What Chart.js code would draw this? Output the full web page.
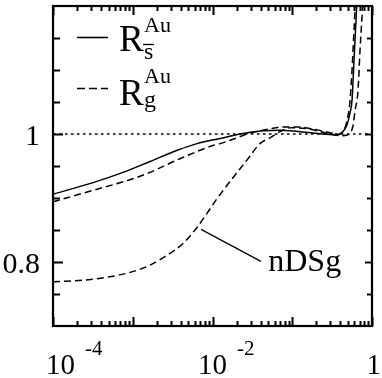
<!DOCTYPE html>
<html>
<head>
<meta charset="utf-8">
<script src="https://cdn.jsdelivr.net/npm/chart.js@4.4.0/dist/chart.umd.min.js"></script>
<style>
  html, body { margin: 0; padding: 0; background: #fff; }
  canvas { display: block; }
</style>
</head>
<body>
<canvas id="chart" width="382" height="378"></canvas>
<script>
// Data (x is log scale)
const xRs = [1e-4, 3.18e-4, 7.55e-4, 1.64e-3, 3.69e-3, 6.39e-3, 0.0124, 0.0221, 0.043, 0.0702, 0.118, 0.223, 0.344, 0.433, 0.486, 0.53, 0.561, 0.594, 0.629, 0.66];
const yRs = [0.906, 0.924, 0.94, 0.957, 0.975, 0.985, 0.993, 1.0, 1.005, 1.006, 1.004, 1.0005, 0.999, 1.004, 1.0145, 1.033, 1.052, 1.114, 1.176, 1.23];

const xRg = [1e-4, 3.18e-4, 1.0e-3, 1.64e-3, 3.69e-3, 0.0101, 0.0124, 0.0203, 0.0271, 0.0526, 0.0766, 0.118, 0.193, 0.297, 0.375, 0.433, 0.472, 0.5, 0.53, 0.561, 0.594, 0.63];
const yRg = [0.894, 0.912, 0.93, 0.94, 0.96, 0.982, 0.985, 0.994, 1.0, 1.008, 1.011, 1.011, 1.007, 1.002, 0.999, 1.004, 1.0145, 1.0285, 1.052, 1.099, 1.161, 1.23];

const xN = [1e-4, 2.38e-4, 6.35e-4, 1.13e-3, 1.64e-3, 2.69e-3, 4.27e-3, 6.39e-3, 8.53e-3, 0.0114, 0.0279, 0.0394, 0.0526, 0.0702, 0.0965, 0.157, 0.257, 0.397, 0.5, 0.578, 0.612, 0.667, 0.707, 0.75, 0.79];
const yN = [0.769, 0.7715, 0.779, 0.787, 0.795, 0.8105, 0.829, 0.854, 0.876, 0.899, 0.9615, 0.985, 0.994, 1.0036, 1.0098, 1.0083, 1.002, 0.9974, 0.9989, 1.013, 1.036, 1.067, 1.13, 1.184, 1.23];

// reference line at 1 and the pointer to the nDSg label
const refX = [1e-4, 1];
const refY = [1, 1];
const ptrX = [0.00718, 0.0405];
const ptrY = [0.851, 0.801];
const ptrLabel = 'nDSg';
const ptrLabelAt = [0.05, 0.80];

// axes
const xMin = 1e-4, xMax = 1;
const yMin = 0.7, yMax = 1.2;
const yTicks = [0.75, 0.8, 0.85, 0.9, 0.95, 1, 1.05, 1.1, 1.15];
const yLabelVals = [0.8, 1];
const yLabelText = ['0.8', '1'];
const xDecades = [-4, -3, -2, -1, 0];
const xLabelVals = [1e-4, 1e-2, 1];
const xLabelBase = ['10', '10', '1'];
const xLabelExp = ['-4', '-2', ''];

const SERIF = '"Liberation Serif", "DejaVu Serif", serif';

const pts = (xs, ys) => xs.map((v, i) => ({ x: v, y: ys[i] }));

const lineStyle = {
  borderColor: '#000',
  borderWidth: 1.5,
  pointRadius: 0,
  fill: false,
  cubicInterpolationMode: 'monotone'
};

const frame = {
  id: 'frame',
  afterDraw(chart) {
    const { ctx, chartArea: a, scales: { x, y } } = chart;
    ctx.save();
    ctx.strokeStyle = '#000';
    ctx.fillStyle = '#000';

    // box
    ctx.lineWidth = 2.2;
    ctx.strokeRect(a.left, a.top, a.right - a.left, a.bottom - a.top);

    // y ticks, inward on both sides
    ctx.lineWidth = 2;
    ctx.beginPath();
    yTicks.forEach(v => {
      const py = Math.round(y.getPixelForValue(v)) + 0.5;
      const major = yLabelVals.includes(v);
      ctx.moveTo(a.left, py); ctx.lineTo(a.left + (major ? 10 : 7), py);
      ctx.moveTo(a.right, py); ctx.lineTo(a.right - (major ? 7 : 5), py);
    });
    // x ticks, inward top and bottom
    xDecades.forEach(k => {
      const base = Math.pow(10, k);
      const px = Math.round(x.getPixelForValue(base)) + 0.5;
      ctx.moveTo(px, a.bottom); ctx.lineTo(px, a.bottom - 9);
      ctx.moveTo(px, a.top); ctx.lineTo(px, a.top + 9);
      if (k < 0) {
        for (let m = 2; m <= 9; m++) {
          const mx = Math.round(x.getPixelForValue(m * base)) + 0.5;
          ctx.moveTo(mx, a.bottom); ctx.lineTo(mx, a.bottom - 5);
          ctx.moveTo(mx, a.top); ctx.lineTo(mx, a.top + 5);
        }
      }
    });
    ctx.stroke();

    // y labels
    ctx.font = '30px ' + SERIF;
    ctx.textAlign = 'right';
    ctx.textBaseline = 'middle';
    yLabelVals.forEach((v, i) => {
      ctx.fillText(yLabelText[i], a.left - 13, y.getPixelForValue(v) + 3);
    });

    // x labels with superscripts
    ctx.textBaseline = 'alphabetic';
    ctx.textAlign = 'left';
    xLabelVals.forEach((v, i) => {
      const px = x.getPixelForValue(v);
      ctx.font = '29px ' + SERIF;
      const wb = ctx.measureText(xLabelBase[i]).width;
      ctx.font = '21px ' + SERIF;
      const we = xLabelExp[i] ? ctx.measureText(xLabelExp[i]).width + 10 : 0;
      let left = xLabelExp[i] ? px - wb / 2 : px - wb / 2 + 2;
      left = Math.max(left, 46);
      left = Math.min(left, chart.width - wb - we - 1);
      ctx.font = '29px ' + SERIF;
      ctx.fillText(xLabelBase[i], left, 374);
      if (xLabelExp[i]) {
        ctx.font = '21px ' + SERIF;
        ctx.fillText(xLabelExp[i], left + wb + 10, 355);
      }
    });

    // pointer label
    ctx.font = '32px ' + SERIF;
    ctx.textBaseline = 'middle';
    ctx.fillText(ptrLabel, x.getPixelForValue(ptrLabelAt[0]), y.getPixelForValue(ptrLabelAt[1]) + 1);

    // legend
    const lx = a.left + 24, lw = 31;
    ctx.lineWidth = 1.6;
    ctx.beginPath();
    ctx.moveTo(lx, 37.5); ctx.lineTo(lx + lw, 37.5);
    ctx.stroke();
    ctx.setLineDash([8, 4]);
    ctx.beginPath();
    ctx.moveTo(lx, 88.5); ctx.lineTo(lx + lw, 88.5);
    ctx.stroke();
    ctx.setLineDash([]);

    ctx.textBaseline = 'alphabetic';
    ctx.font = '37px ' + SERIF;
    ctx.fillText('R', 119, 51);
    ctx.fillText('R', 119, 105);
    ctx.font = '22px ' + SERIF;
    ctx.fillText('Au', 144, 32);
    ctx.fillText('Au', 144, 83);
    ctx.font = '24px ' + SERIF;
    ctx.fillText('s', 144, 59);
    ctx.fillText('g', 144, 107);
    ctx.lineWidth = 1.3;
    ctx.beginPath();
    ctx.moveTo(143, 44.5); ctx.lineTo(154, 44.5);
    ctx.stroke();

    ctx.restore();
  }
};

new Chart(document.getElementById('chart'), {
  type: 'line',
  data: {
    datasets: [
      { ...lineStyle, data: pts(refX, refY), borderWidth: 1.6, borderDash: [2.5, 3.5], cubicInterpolationMode: 'default', tension: 0 },
      { ...lineStyle, data: pts(xRs, yRs) },
      { ...lineStyle, data: pts(xRg, yRg), borderDash: [7, 4] },
      { ...lineStyle, data: pts(xN, yN), borderDash: [7, 4] },
      { ...lineStyle, data: pts(ptrX, ptrY), borderWidth: 1.2, cubicInterpolationMode: 'default', tension: 0 }
    ]
  },
  options: {
    responsive: false,
    animation: false,
    devicePixelRatio: 1,
    layout: { padding: { top: 6, right: 10, left: 0, bottom: 0 } },
    plugins: { legend: { display: false }, tooltip: { enabled: false } },
    scales: {
      x: {
        type: 'logarithmic', min: xMin, max: xMax,
        grid: { display: false }, border: { display: false },
        ticks: { display: false },
        afterFit: s => { s.height = 52; }
      },
      y: {
        type: 'linear', min: yMin, max: yMax,
        grid: { display: false }, border: { display: false },
        ticks: { display: false },
        afterFit: s => { s.width = 53; }
      }
    }
  },
  plugins: [frame]
});
</script>
</body>
</html>
